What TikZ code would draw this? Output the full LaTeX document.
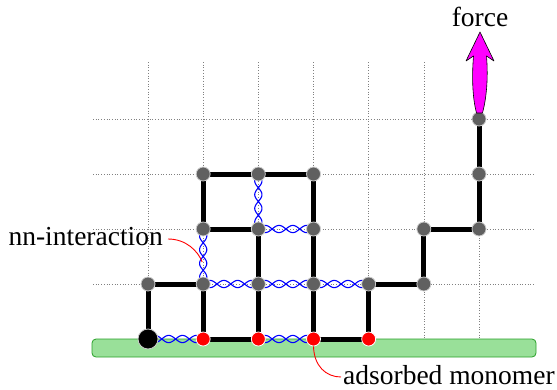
\documentclass[tikz,border=0pt]{standalone}
\usepackage{fontspec}
\setmainfont{Liberation Serif}
\newfontfamily\labelfont{Liberation Serif}
\usetikzlibrary{backgrounds,calc}

\definecolor{monogray}{RGB}{96,96,96}
\definecolor{rimgray}{RGB}{205,205,205}
\definecolor{surffill}{RGB}{153,224,153}
\definecolor{surfedge}{RGB}{40,160,40}
\definecolor{pullcol}{RGB}{255,0,255}

% two counter-wound strands between the centres of two monomers
\newcommand\nnlink[2]{%
  \path (#1.center); \pgfgetlastxy{\hax}{\hay}%
  \path (#2.center); \pgfgetlastxy{\hbx}{\hby}%
  \pgfmathsetmacro\hax{\hax}\pgfmathsetmacro\hay{\hay}%
  \pgfmathsetmacro\hdx{\hbx-\hax}\pgfmathsetmacro\hdy{\hby-\hay}%
  \pgfmathsetmacro\hlen{veclen(\hdx,\hdy)}%
  \foreach \sg in {1,-1}{%
    \draw[helix] plot[variable=\t, domain=0:1, samples=81, smooth]
      ({(\hax+\hdx*\t-\sg*3.6*sin(720*\t)*\hdy/\hlen)*1pt},
       {(\hay+\hdy*\t+\sg*3.6*sin(720*\t)*\hdx/\hlen)*1pt});
  }%
}

\begin{document}
\begin{tikzpicture}[x=1pt,y=-1pt,
  latt/.style={gray, dotted, line width=0.7pt},
  surface/.style={fill=surffill, draw=surfedge, line width=0.8pt, rounded corners=4pt},
  monomer/.style={circle, fill=monogray, draw=rimgray, line width=0.8pt,
                  minimum size=14pt, inner sep=0pt},
  adsorbed/.style={monomer, fill=red, draw=white},
  tether/.style={monomer, fill=black, draw=rimgray, minimum size=20pt},
  bond/.style={black, line width=5pt},
  helix/.style={blue, line width=1.1pt},
  pointer/.style={red, line width=0.9pt},
  lbl/.style={inner sep=0pt, font=\labelfont\fontsize{27.5}{30}\selectfont},
  forcearrow/.style={fill=pullcol, draw=black, line width=0.6pt, line join=round}]
\useasboundingbox (0,0) rectangle (557,389);

% monomers: column/row on the lattice and kind
\foreach \c/\r/\k in {0/0/tether, 0/1/monomer, 1/1/monomer, 1/0/adsorbed,
    2/0/adsorbed, 2/1/monomer, 2/2/monomer, 1/2/monomer, 1/3/monomer,
    2/3/monomer, 3/3/monomer, 3/2/monomer, 3/1/monomer, 3/0/adsorbed,
    4/0/adsorbed, 4/1/monomer, 5/1/monomer, 5/2/monomer, 6/2/monomer,
    6/3/monomer, 6/4/monomer}
  \node[\k] (n\c\r) at ({148+55.17*\c},{339-55*\r}) {};

% labels
\node[lbl, anchor=base] (forcelab) at (480,26) {force};
\node[lbl, anchor=base east] (nnlab) at (163,245) {nn-interaction};
\node[lbl, anchor=base west] (admlab) at (343,384) {adsorbed monomer};

\begin{pgfonlayer}{background}
  % lattice
  \foreach \c in {0,...,6}
    \draw[latt] ({148+55.17*\c},62) -- ({148+55.17*\c},339);
  \foreach \r in {1,...,4}
    \draw[latt] (93,{339-55*\r}) -- (535,{339-55*\r});

  % adsorbing wall
  \draw[surface] (92,339) rectangle (536,357);

  % non-bonded nearest-neighbour contacts
  \nnlink{n00}{n10}
  \nnlink{n20}{n30}
  \nnlink{n11}{n21}
  \nnlink{n21}{n31}
  \nnlink{n31}{n41}
  \nnlink{n11}{n12}
  \nnlink{n22}{n32}
  \nnlink{n22}{n23}

  % chain backbone
  \draw[bond] (n00.center) -- (n01.center) -- (n11.center) -- (n10.center)
    -- (n20.center) -- (n21.center) -- (n22.center) -- (n12.center)
    -- (n13.center) -- (n23.center) -- (n33.center) -- (n32.center)
    -- (n31.center) -- (n30.center) -- (n40.center) -- (n41.center)
    -- (n51.center) -- (n52.center) -- (n62.center) -- (n63.center)
    -- (n64.center);
\end{pgfonlayer}

% pulling force on the last monomer
\coordinate (ftip) at (480,32);
\draw[forcearrow] (ftip) -- (494,61) -- (486.5,56)
  .. controls (488.5,80) and (486,100) .. (482.5,113)
  -- (476.5,113)
  .. controls (473,100) and (471.5,80) .. (473.5,56)
  -- (466,61) -- cycle;

% label pointers
\coordinate (nntail) at (168,239);
\coordinate (nnhead) at ($(n11)!0.4!(n12)$);
\draw[pointer] (nntail) .. controls (186,239) and (198,251) .. ([xshift=-1pt]nnhead);
\coordinate (admtail) at (341,377);
\draw[pointer] (n30.south) .. controls (314,366) and (326,377) .. (admtail);
\end{tikzpicture}
\end{document}
